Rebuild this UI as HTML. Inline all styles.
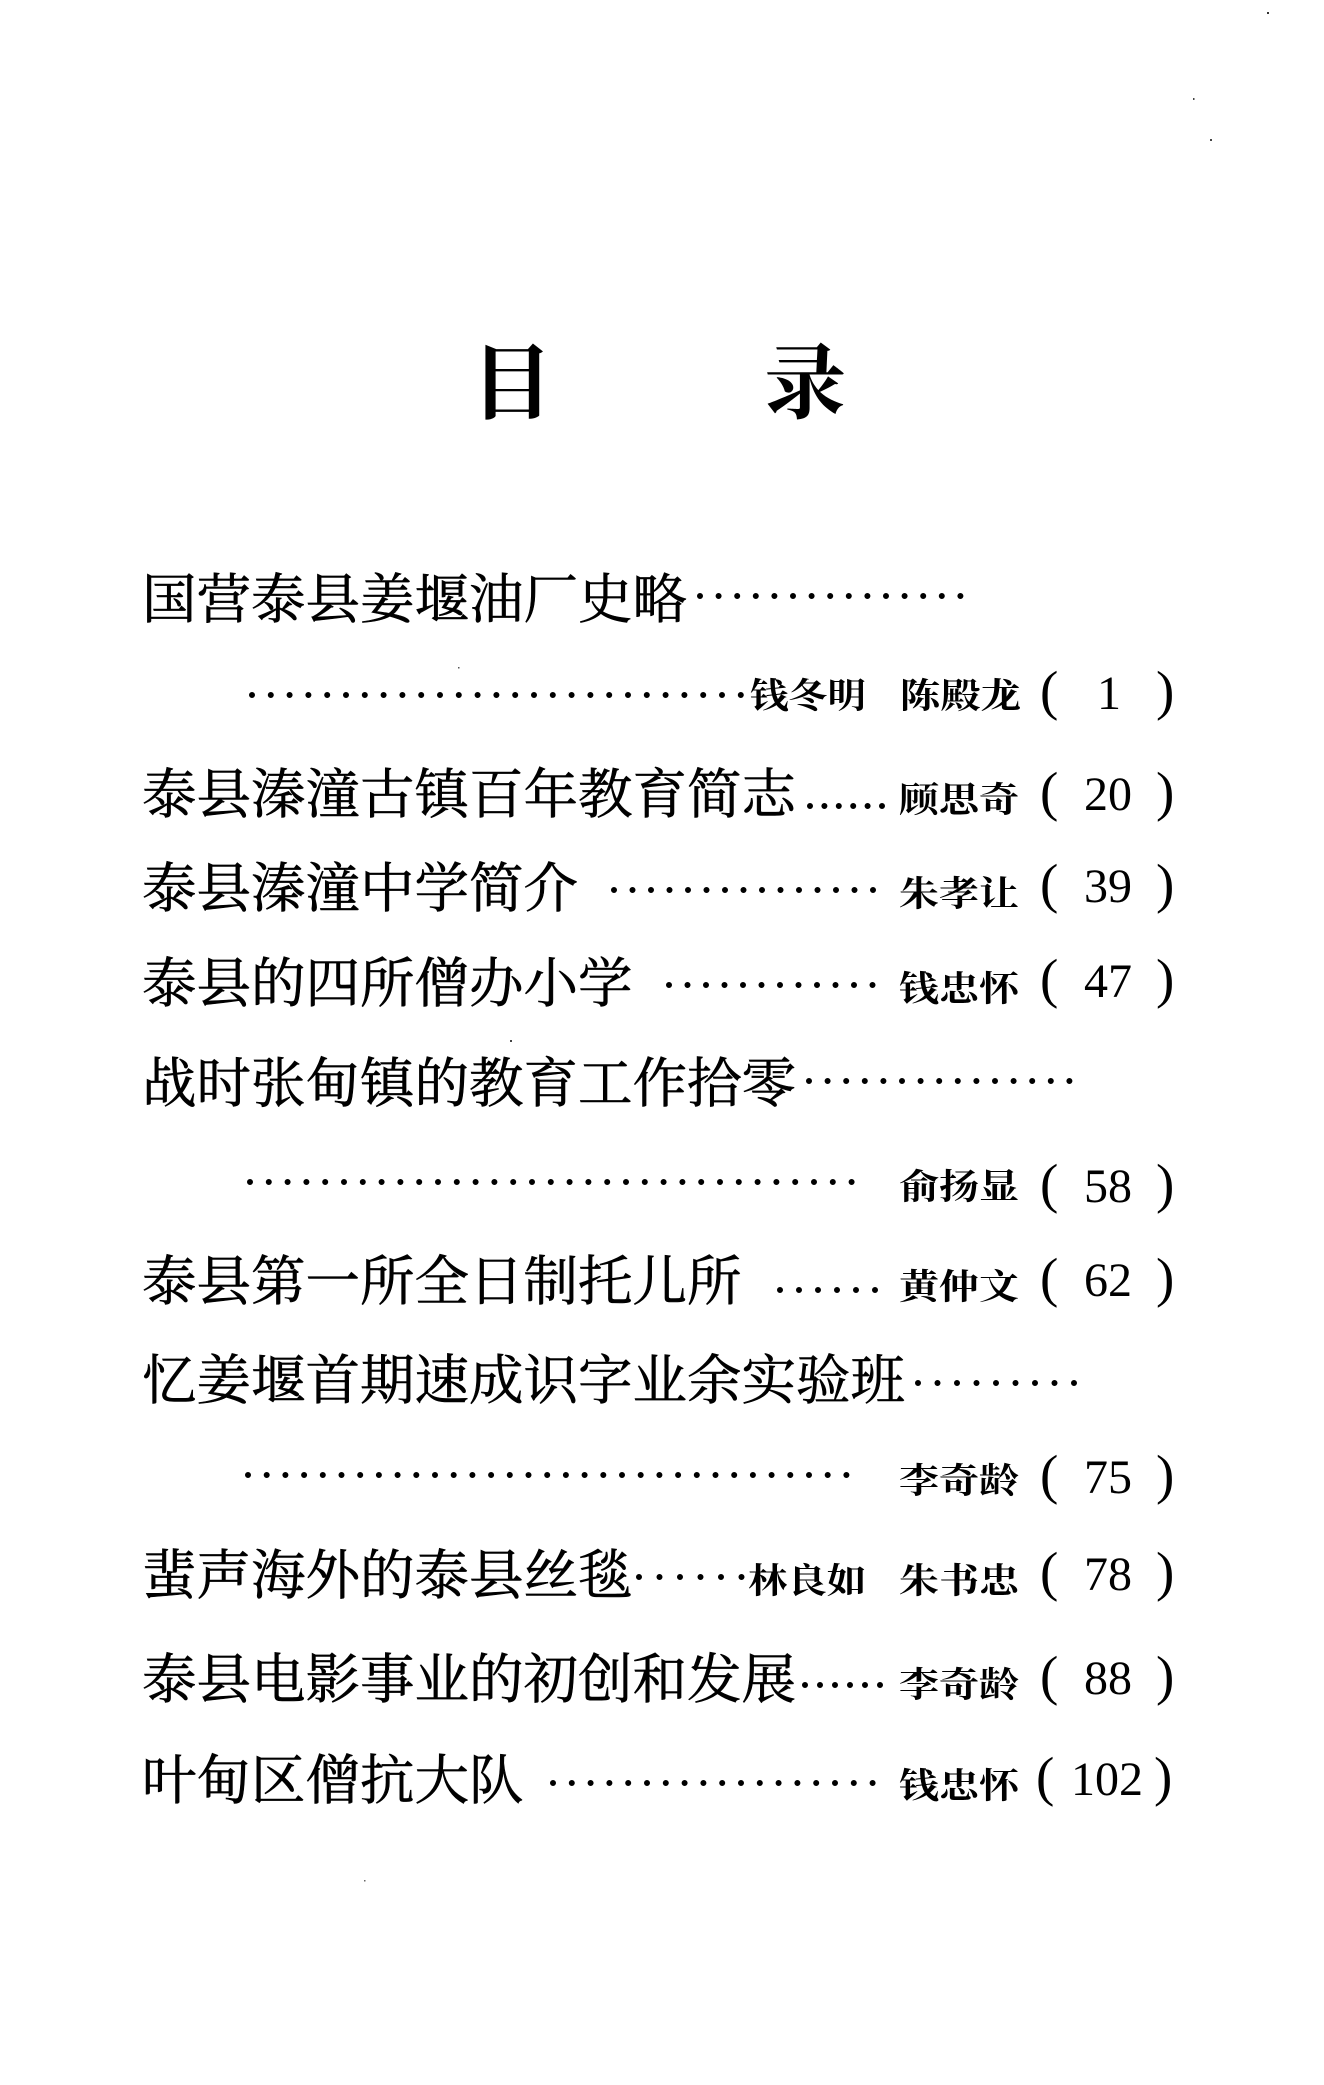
<!DOCTYPE html>
<html>
<head>
<meta charset="utf-8">
<style>
  html, body { margin: 0; padding: 0; background: #fff; }
  body { width: 1324px; height: 2085px; overflow: hidden; }
  svg { display: block; }
  .main { font-family: "Noto Serif CJK SC", "Noto Sans CJK SC", serif; font-size: 54px; fill: #000; stroke: #000; stroke-width: 0.6px; }
  .auth { font-family: "Noto Serif CJK SC", "Noto Sans CJK SC", serif; font-size: 35px; font-weight: 700; fill: #000; }
  .title { font-family: "Noto Serif CJK SC", "Noto Sans CJK SC", serif; font-size: 82px; font-weight: 700; fill: #000; }
  .par { font-family: "Liberation Serif", serif; font-size: 55px; fill: #000; }
  .num { font-family: "Liberation Serif", serif; font-size: 48px; fill: #000; }
  .dots { stroke: #000; stroke-width: 6; stroke-linecap: round; fill: none; }
</style>
</head>
<body>
<svg width="1324" height="2085" viewBox="0 0 1324 2085" xmlns="http://www.w3.org/2000/svg">
  <rect width="1324" height="2085" fill="#fff"/>

  <!-- scanner specks -->
  <rect x="1267" y="12" width="2" height="2" fill="#333"/>
  <rect x="1193" y="98" width="1.5" height="2" fill="#444"/>
  <rect x="1210" y="139" width="2" height="2" fill="#444"/>
  <rect x="458" y="667" width="1.5" height="1.5" fill="#555"/>
  <rect x="510" y="1040" width="2" height="2" fill="#444"/>
  <rect x="364" y="1880" width="1.5" height="1.5" fill="#666"/>

  <!-- Title -->
  <text class="title" x="512" y="412" text-anchor="middle">目</text>
  <text class="title" x="805" y="412" text-anchor="middle">录</text>

  <!-- L1 -->
  <text class="main" x="142" y="618" textLength="545" lengthAdjust="spacingAndGlyphs">国营泰县姜堰油厂史略</text>
  <line class="dots" x1="700" y1="596" x2="960.5" y2="596" stroke-dasharray="0 18.6"/>

  <!-- L2 -->
  <line class="dots" x1="252" y1="695" x2="740.9" y2="695" stroke-dasharray="0 18.8"/>
  <text class="auth" x="750" y="708" textLength="116" lengthAdjust="spacingAndGlyphs">钱冬明</text>
  <text class="auth" x="900" y="708" textLength="121" lengthAdjust="spacingAndGlyphs">陈殿龙</text>
  <text class="par" x="1040" y="709">(</text>
  <text class="num" x="1109" y="709" text-anchor="middle">1</text>
  <text class="par" x="1156" y="709">)</text>

  <!-- L3 -->
  <text class="main" x="142" y="813" textLength="654" lengthAdjust="spacingAndGlyphs">泰县溱潼古镇百年教育简志</text>
  <line class="dots" x1="810" y1="806" x2="882.1" y2="806" stroke-dasharray="0 14.4"/>
  <text class="auth" x="899" y="812" textLength="120" lengthAdjust="spacingAndGlyphs">顾思奇</text>
  <text class="par" x="1040" y="810">(</text>
  <text class="num" x="1108" y="810" text-anchor="middle">20</text>
  <text class="par" x="1156" y="810">)</text>

  <!-- L4 -->
  <text class="main" x="142" y="907" textLength="436" lengthAdjust="spacingAndGlyphs">泰县溱潼中学简介</text>
  <line class="dots" x1="614" y1="890" x2="873.1" y2="890" stroke-dasharray="0 18.5"/>
  <text class="auth" x="899" y="906" textLength="120" lengthAdjust="spacingAndGlyphs">朱孝让</text>
  <text class="par" x="1040" y="902">(</text>
  <text class="num" x="1108" y="902" text-anchor="middle">39</text>
  <text class="par" x="1156" y="902">)</text>

  <!-- L5 -->
  <text class="main" x="142" y="1002" textLength="490.5" lengthAdjust="spacingAndGlyphs">泰县的四所僧办小学</text>
  <line class="dots" x1="669" y1="985" x2="872.6" y2="985" stroke-dasharray="0 18.5"/>
  <text class="auth" x="899" y="1001" textLength="120" lengthAdjust="spacingAndGlyphs">钱忠怀</text>
  <text class="par" x="1040" y="997">(</text>
  <text class="num" x="1108" y="997" text-anchor="middle">47</text>
  <text class="par" x="1156" y="997">)</text>

  <!-- L6 -->
  <text class="main" x="142" y="1102" textLength="654" lengthAdjust="spacingAndGlyphs">战时张甸镇的教育工作拾零</text>
  <line class="dots" x1="809" y1="1081" x2="1069.5" y2="1081" stroke-dasharray="0 18.6"/>

  <!-- L7 -->
  <line class="dots" x1="250" y1="1182" x2="851.7" y2="1182" stroke-dasharray="0 18.8"/>
  <text class="auth" x="899" y="1199" textLength="120" lengthAdjust="spacingAndGlyphs">俞扬显</text>
  <text class="par" x="1040" y="1202">(</text>
  <text class="num" x="1108" y="1202" text-anchor="middle">58</text>
  <text class="par" x="1156" y="1202">)</text>

  <!-- L8 -->
  <text class="main" x="142" y="1300" textLength="599.5" lengthAdjust="spacingAndGlyphs">泰县第一所全日制托儿所</text>
  <line class="dots" x1="780" y1="1290" x2="875.1" y2="1290" stroke-dasharray="0 19"/>
  <text class="auth" x="899" y="1299" textLength="120" lengthAdjust="spacingAndGlyphs">黄仲文</text>
  <text class="par" x="1040" y="1296">(</text>
  <text class="num" x="1108" y="1296" text-anchor="middle">62</text>
  <text class="par" x="1156" y="1296">)</text>

  <!-- L9 -->
  <text class="main" x="142" y="1399" textLength="763" lengthAdjust="spacingAndGlyphs">忆姜堰首期速成识字业余实验班</text>
  <line class="dots" x1="918" y1="1383" x2="1074.1" y2="1383" stroke-dasharray="0 19.5"/>

  <!-- L10 -->
  <line class="dots" x1="248" y1="1475" x2="846.5" y2="1475" stroke-dasharray="0 18.7"/>
  <text class="auth" x="899" y="1493" textLength="120" lengthAdjust="spacingAndGlyphs">李奇龄</text>
  <text class="par" x="1040" y="1493">(</text>
  <text class="num" x="1108" y="1493" text-anchor="middle">75</text>
  <text class="par" x="1156" y="1493">)</text>

  <!-- L11 -->
  <text class="main" x="142" y="1594" textLength="490.5" lengthAdjust="spacingAndGlyphs">蜚声海外的泰县丝毯</text>
  <line class="dots" x1="639" y1="1577" x2="741.6" y2="1577" stroke-dasharray="0 20.5"/>
  <text class="auth" x="748" y="1593" textLength="118" lengthAdjust="spacingAndGlyphs">林良如</text>
  <text class="auth" x="899" y="1593" textLength="120" lengthAdjust="spacingAndGlyphs">朱书忠</text>
  <text class="par" x="1040" y="1590">(</text>
  <text class="num" x="1108" y="1590" text-anchor="middle">78</text>
  <text class="par" x="1156" y="1590">)</text>

  <!-- L12 -->
  <text class="main" x="142" y="1698" textLength="654" lengthAdjust="spacingAndGlyphs">泰县电影事业的初创和发展</text>
  <line class="dots" x1="805" y1="1685" x2="880.1" y2="1685" stroke-dasharray="0 15"/>
  <text class="auth" x="899" y="1697" textLength="120" lengthAdjust="spacingAndGlyphs">李奇龄</text>
  <text class="par" x="1040" y="1694">(</text>
  <text class="num" x="1108" y="1694" text-anchor="middle">88</text>
  <text class="par" x="1156" y="1694">)</text>

  <!-- L13 -->
  <text class="main" x="142" y="1799" textLength="381.5" lengthAdjust="spacingAndGlyphs">叶甸区僧抗大队</text>
  <line class="dots" x1="553" y1="1783" x2="872.7" y2="1783" stroke-dasharray="0 18.8"/>
  <text class="auth" x="899" y="1798" textLength="120" lengthAdjust="spacingAndGlyphs">钱忠怀</text>
  <text class="par" x="1036" y="1795">(</text>
  <text class="num" x="1107" y="1795" text-anchor="middle">102</text>
  <text class="par" x="1154" y="1795">)</text>
</svg>
</body>
</html>
